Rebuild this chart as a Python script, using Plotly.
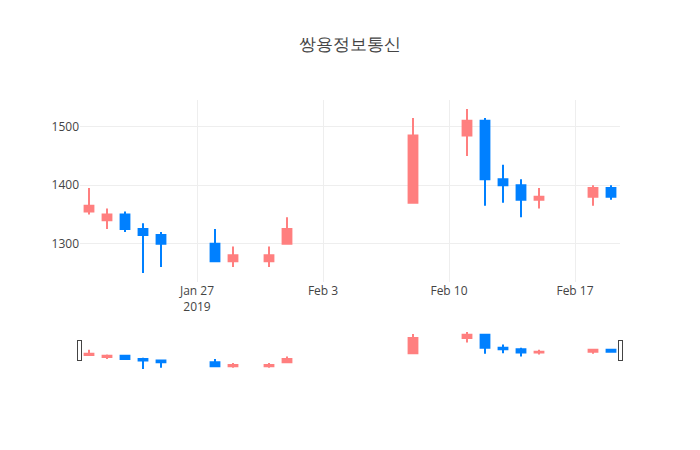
import plotly.graph_objects as go

dates = ["2019-01-21", "2019-01-22", "2019-01-23", "2019-01-24", "2019-01-25",
         "2019-01-28", "2019-01-29", "2019-01-31", "2019-02-01",
         "2019-02-08", "2019-02-11", "2019-02-12", "2019-02-13", "2019-02-14",
         "2019-02-15", "2019-02-18", "2019-02-19"]
open_ = [1355, 1340, 1350, 1325, 1315, 1300, 1270, 1270, 1300,
         1370, 1485, 1510, 1410, 1400, 1375, 1380, 1395]
high = [1395, 1360, 1355, 1335, 1320, 1325, 1295, 1295, 1345,
        1515, 1530, 1515, 1435, 1410, 1395, 1400, 1400]
low = [1350, 1325, 1320, 1250, 1260, 1270, 1260, 1260, 1300,
       1370, 1450, 1365, 1370, 1345, 1360, 1365, 1375]
close = [1365, 1350, 1325, 1315, 1300, 1270, 1280, 1280, 1325,
         1485, 1510, 1410, 1400, 1375, 1380, 1395, 1380]

up_color = "#FF7F7F"
down_color = "#0080FF"

fig = go.Figure(go.Candlestick(
    x=dates, open=open_, high=high, low=low, close=close,
    increasing=dict(line=dict(color=up_color), fillcolor=up_color),
    decreasing=dict(line=dict(color=down_color), fillcolor=down_color),
))

fig.update_layout(
    template="none",
    width=700, height=450,
    title=dict(text="쌍용정보통신", x=0.5, xanchor="center"),
    showlegend=False,
    xaxis=dict(rangeslider=dict(visible=True), gridcolor="#eee", zeroline=False),
    yaxis=dict(gridcolor="#eee", zeroline=False),
)

fig.write_html("out.html")
